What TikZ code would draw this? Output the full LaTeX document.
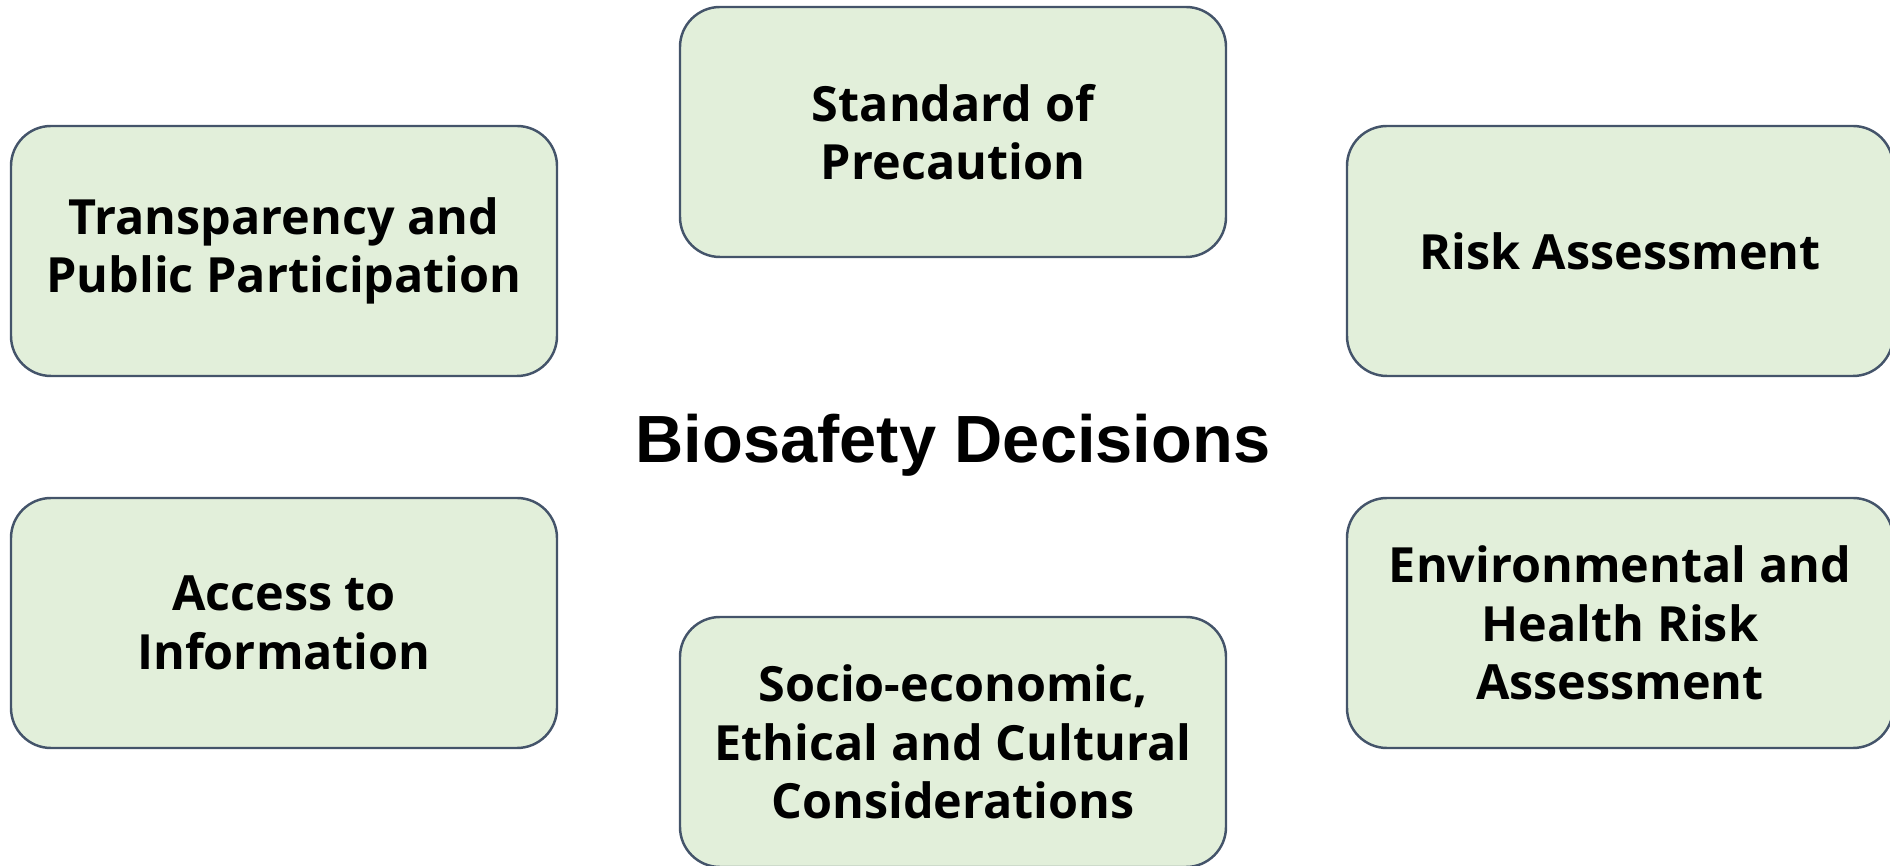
\documentclass[tikz,border=0pt]{standalone}
\usepackage{fontspec}
\setmainfont{Open Sans}
\newfontfamily\titlefont{Liberation Sans}
\usepackage{tikz}

\definecolor{boxfill}{HTML}{E2EFDA}
\definecolor{boxline}{HTML}{44546A}

\begin{document}
\begin{tikzpicture}[factor/.style={draw=boxline,fill=boxfill,line width=0.7pt,rounded corners=0.4cm,
            minimum width=5.46cm,minimum height=2.5cm,align=center,
            font=\fontsize{13.8}{16.6}\selectfont\bfseries}]
          \useasboundingbox (0,0) rectangle (18.9,8.66);
          \node[factor] (std) at (9.53,7.34) {Standard of\\Precaution};
          \node[factor] (transp) at (2.84,6.15) {Transparency and\\Public Participation};
          \node[factor] (risk) at (16.20,6.15) {Risk Assessment};
          \node[factor] (access) at (2.84,2.43) {Access to\\Information};
          \node[factor] (envrisk) at (16.20,2.43) {Environmental and\\Health Risk\\Assessment};
          \node[factor] (socio) at (9.53,1.24) {Socio-economic,\\Ethical and Cultural\\Considerations};
          \node[font=\titlefont\fontsize{19}{22}\selectfont\bfseries] (title) at (9.53,4.21) {Biosafety Decisions};
        \end{tikzpicture}
\end{document}
